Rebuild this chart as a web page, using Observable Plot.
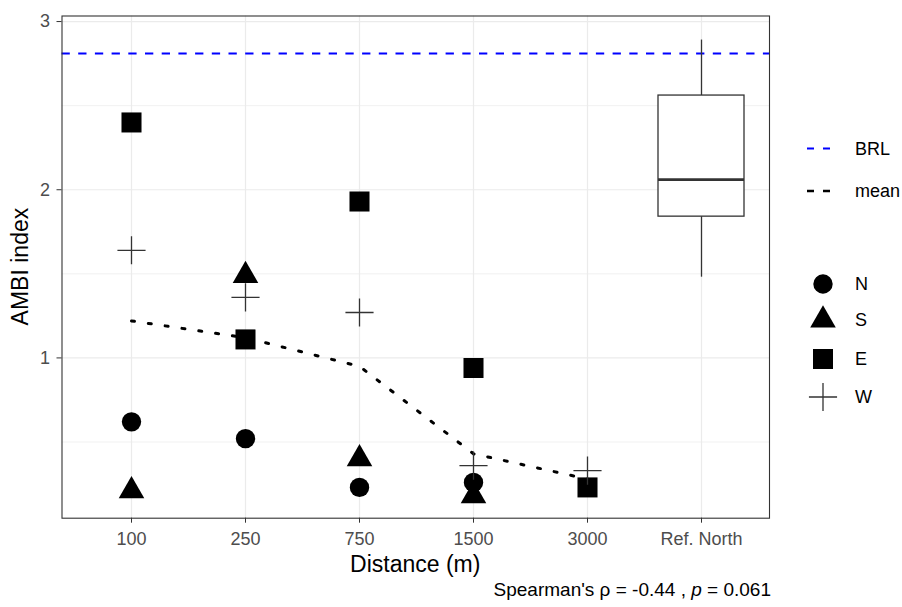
<!DOCTYPE html>
<html>
<head>
<meta charset="utf-8">
<script src="https://cdn.jsdelivr.net/npm/d3@7"></script>
<script src="https://cdn.jsdelivr.net/npm/@observablehq/plot@0.6"></script>
<style>
  body { margin: 0; background: #fff; font-family: "Liberation Sans", Arial, sans-serif; }
  #wrap { position: relative; width: 902px; height: 607px; }
  #wrap > svg { position: absolute; left: 0; top: 0; }
  #overlay { pointer-events: none; }
</style>
</head>
<body>
<div id="wrap"></div>
<script>
// ---- data ----
const categories = ["100", "250", "750", "1500", "3000", "Ref. North"];
const distances = ["100", "250", "750", "1500", "3000"];
const stations = ["N", "S", "E", "W"];
const valuesN = [0.62, 0.52, 0.23, 0.26, null];
const valuesS = [0.21, 1.49, 0.40, 0.18, null];
const valuesE = [2.40, 1.11, 1.93, 0.94, 0.23];
const valuesW = [1.64, 1.36, 1.27, 0.36, 0.33];
const meanValues = [1.22, 1.12, 0.95, 0.43, 0.28];
const brlValue = [2.81];
// Ref. North boxplot: lower whisker, Q1, median, Q3, upper whisker
const refNorthBox = [1.48, 1.84, 2.06, 2.56, 2.89];
const yMajorTicks = [1, 2, 3];
const yMinorTicks = [0.5, 1.5, 2.5];
const legendLines = ["BRL", "mean"];
const xTitle = "Distance (m)";
const yTitle = "AMBI index";
const caption = {pre: "Spearman's ", rho: "ρ", mid: " = -0.44 , ", p: "p", post: " = 0.061"};

const series = {N: valuesN, S: valuesS, E: valuesE, W: valuesW};
const rows = [];
distances.forEach((d, i) => {
  stations.forEach(s => {
    const v = series[s][i];
    if (v != null) rows.push({distance: d, station: s, ambi: v});
  });
});
const meanRows = distances.map((d, i) => ({distance: d, ambi: meanValues[i]}));
const box = [{group: "Ref. North", lo: refNorthBox[0], q1: refNorthBox[1], median: refNorthBox[2], q3: refNorthBox[3], hi: refNorthBox[4]}];

const symbolStyle = {
  N: {symbol: "circle", r: 9.7, fill: "black", stroke: "none"},
  S: {symbol: "triangle", r: 9.5, fill: "black", stroke: "none"},
  E: {symbol: "square", r: 11.3, fill: "black", stroke: "none"},
  W: {symbol: "plus", r: 9.1, fill: "none", stroke: "#333", strokeWidth: 1.3}
};

const W = 902, H = 607;
const mL = 61.5, mR = 133, mT = 15.5, mB = 89.3;
const chart = Plot.plot({
  width: W, height: H,
  marginLeft: mL, marginRight: mR, marginTop: mT, marginBottom: mB,
  style: {fontFamily: "'Liberation Sans', Arial, sans-serif", fontSize: "18px", background: "transparent", overflow: "visible"},
  x: {type: "band", domain: categories, paddingInner: 0.25, paddingOuter: 0.225, align: 0.5},
  y: {domain: [0.047, 3.033]},
  marks: [
    Plot.ruleY(yMinorTicks, {stroke: "#ebebeb", strokeWidth: 0.7}),
    Plot.gridY(yMajorTicks, {stroke: "#ebebeb", strokeOpacity: 1, strokeWidth: 1.2}),
    Plot.gridX({stroke: "#ebebeb", strokeOpacity: 1, strokeWidth: 1.2}),
    Plot.ruleY(brlValue, {stroke: "#0000ff", strokeWidth: 1.8, strokeDasharray: "8.3,8.4"}),
    Plot.ruleX(box, {x: "group", y1: "q3", y2: "hi", stroke: "#333", strokeWidth: 1.3}),
    Plot.ruleX(box, {x: "group", y1: "lo", y2: "q1", stroke: "#333", strokeWidth: 1.3}),
    Plot.barY(box, {x: "group", y1: "q1", y2: "q3", fill: "white", stroke: "#333", strokeWidth: 1.3}),
    Plot.tickY(box, {x: "group", y: "median", stroke: "#333", strokeWidth: 2.6}),
    Plot.line(meanRows, {x: "distance", y: "ambi", stroke: "black", strokeWidth: 3, strokeDasharray: "3,14"}),
    ...stations.map(s => Plot.dot(rows.filter(d => d.station === s), {x: "distance", y: "ambi", ...symbolStyle[s]})),
    Plot.frame({stroke: "#333", strokeWidth: 1.1}),
    Plot.axisY(yMajorTicks, {tickSize: 5, tickPadding: 7, stroke: "#333", fill: "#4d4d4d", fontSize: 18, label: null, tickFormat: d => String(d)}),
    Plot.axisX({tickSize: 5, tickPadding: 9, stroke: "#333", fill: "#4d4d4d", fontSize: 18, label: null})
  ]
});
document.getElementById("wrap").appendChild(chart);

// ---- titles, legend + caption overlay ----
const ov = d3.select("#wrap").append("svg").attr("id", "overlay")
  .attr("width", W).attr("height", H)
  .style("font-family", "'Liberation Sans', Arial, sans-serif");

const panelCx = (mL + (W - mR)) / 2, panelCy = (mT + (H - mB)) / 2;
ov.append("text").attr("x", panelCx).attr("y", 563.5).attr("dy", "0.35em")
  .attr("text-anchor", "middle").attr("font-size", 23).attr("fill", "black").text(xTitle);
ov.append("text").attr("transform", `translate(20,${panelCy}) rotate(-90)`).attr("dy", "0.35em")
  .attr("text-anchor", "middle").attr("font-size", 23).attr("fill", "black").text(yTitle);

const lineLegendY = [148.5, 191];
const lineStyles = [
  {stroke: "#0000ff", width: 2.2},
  {stroke: "black", width: 2.6}
];
legendLines.forEach((name, i) => {
  ov.append("line").attr("x1", 807).attr("x2", 832).attr("y1", lineLegendY[i]).attr("y2", lineLegendY[i])
    .attr("stroke", lineStyles[i].stroke).attr("stroke-width", lineStyles[i].width).attr("stroke-dasharray", "7,9");
  ov.append("text").attr("x", 855).attr("y", lineLegendY[i]).attr("dy", "0.35em")
    .attr("font-size", 18).attr("fill", "black").text(name);
});

const shapeLegendY = [284, 320, 359, 397];
const d3Symbols = {circle: d3.symbolCircle, triangle: d3.symbolTriangle, square: d3.symbolSquare, plus: d3.symbolPlus};
stations.forEach((s, i) => {
  const st = symbolStyle[s];
  ov.append("path")
    .attr("transform", `translate(823,${shapeLegendY[i]})`)
    .attr("d", d3.symbol(d3Symbols[st.symbol], Math.PI * st.r * st.r)())
    .attr("fill", st.fill).attr("stroke", st.stroke).attr("stroke-width", st.strokeWidth || 0);
  ov.append("text").attr("x", 855).attr("y", shapeLegendY[i]).attr("dy", "0.35em")
    .attr("font-size", 18).attr("fill", "black").text(s);
});

const cap = ov.append("text").attr("x", 771).attr("y", 596).attr("text-anchor", "end")
  .attr("font-size", 19).attr("fill", "black");
cap.append("tspan").text(caption.pre);
cap.append("tspan").text(caption.rho);
cap.append("tspan").text(caption.mid);
cap.append("tspan").attr("font-style", "italic").text(caption.p);
cap.append("tspan").text(caption.post);
</script>
</body>
</html>
